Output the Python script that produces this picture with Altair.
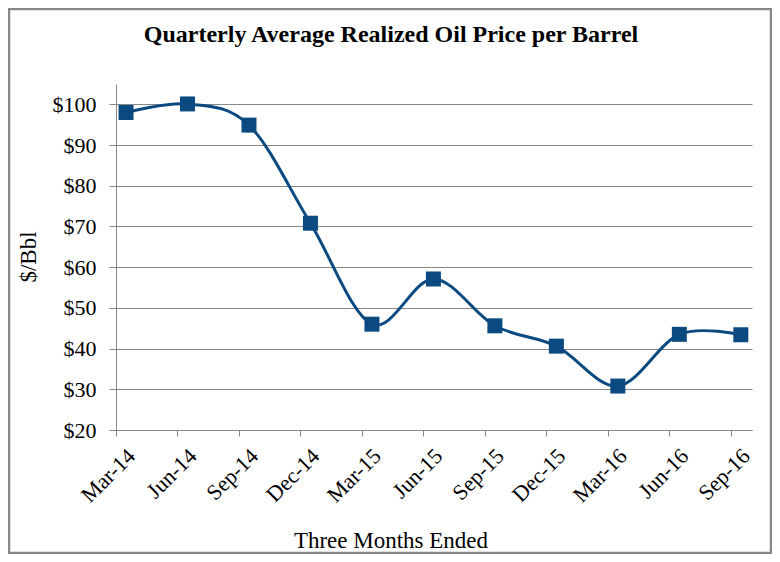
import altair as alt
import pandas as pd

quarters = ["Mar-14", "Jun-14", "Sep-14", "Dec-14", "Mar-15", "Jun-15",
            "Sep-15", "Dec-15", "Mar-16", "Jun-16", "Sep-16"]
prices = [98.0, 100.1, 94.9, 70.8, 46.0, 57.1, 45.6, 40.6, 30.8, 43.5, 43.4]
y_ticks = [20, 30, 40, 50, 60, 70, 80, 90, 100]

title_txt = "Quarterly Average Realized Oil Price per Barrel"
x_title = "Three Months Ended"
y_title = "$/Bbl"

FONT = "Liberation Serif, Times New Roman, DejaVu Serif, serif"
BLUE = "#0B4A80"
GRAY = "#878787"

df = pd.DataFrame({"quarter": quarters, "idx": list(range(len(quarters))), "price": prices})

label_js = "[" + ",".join("'%s'" % q for q in quarters) + "][datum.value]"

x_enc = alt.X(
    "xpos:Q",
    scale=alt.Scale(domain=[0, 10.345], nice=False, zero=False),
    axis=alt.Axis(
        values=list(range(len(quarters))), labelExpr=label_js, labelAngle=-45,
        labelAlign="right", labelBaseline="middle", labelOffset=15, labelPadding=16,
        labelOverlap=False, labelBound=False, labelFlush=False,
        grid=False, title=None, tickSize=6, tickColor=GRAY, domainColor=GRAY,
        labelFont=FONT, labelFontSize=22, labelColor="black",
    ),
)
y_enc = alt.Y(
    "price:Q",
    scale=alt.Scale(domain=[20, 105], nice=False, zero=False),
    axis=alt.Axis(
        values=y_ticks, labelExpr="'$' + datum.value", grid=True, gridColor=GRAY,
        gridOpacity=1, title=None, tickSize=7, tickColor=GRAY, domainColor=GRAY,
        labelOverlap=False, labelFlush=False,
        labelPadding=13, labelFont=FONT, labelFontSize=22, labelColor="black",
    ),
)

base = alt.Chart(df).transform_calculate(xpos="datum.idx + 0.163")

line = base.mark_line(interpolate="cardinal", color=BLUE, strokeWidth=3).encode(x=x_enc, y=y_enc)
pts = base.mark_point(shape="square", filled=True, size=225, color=BLUE, opacity=1).encode(x=x_enc, y=y_enc)

one = alt.Data(values=[{"a": 1}])

border = alt.Chart(one).mark_rect(filled=False, stroke="#888888", strokeWidth=2.5).encode(
    x=alt.value(-107), x2=alt.value(655), y=alt.value(-75), y2=alt.value(469)
)
title = alt.Chart(one).mark_text(
    font=FONT, fontSize=24, fontWeight="bold", align="center", baseline="alphabetic", color="black"
).encode(x=alt.value(275), y=alt.value(-42), text=alt.value(title_txt))
xt = alt.Chart(one).mark_text(
    font=FONT, fontSize=23, align="center", baseline="alphabetic", color="black"
).encode(x=alt.value(275), y=alt.value(464), text=alt.value(x_title))
yt = alt.Chart(one).mark_text(
    font=FONT, fontSize=23, align="center", baseline="alphabetic", color="black", angle=270
).encode(x=alt.value(-80), y=alt.value(173), text=alt.value(y_title))

chart = alt.layer(border, title, xt, yt, line, pts).properties(
    width=636, height=346,
    autosize=alt.AutoSizeParams(type="none"),
    padding={"left": 108, "top": 76, "right": 20, "bottom": 124},
).configure(font=FONT).configure_axis(labelFont=FONT).configure_view(stroke="transparent")

chart.save("out.html", embed_options={"renderer": "svg", "actions": False})
